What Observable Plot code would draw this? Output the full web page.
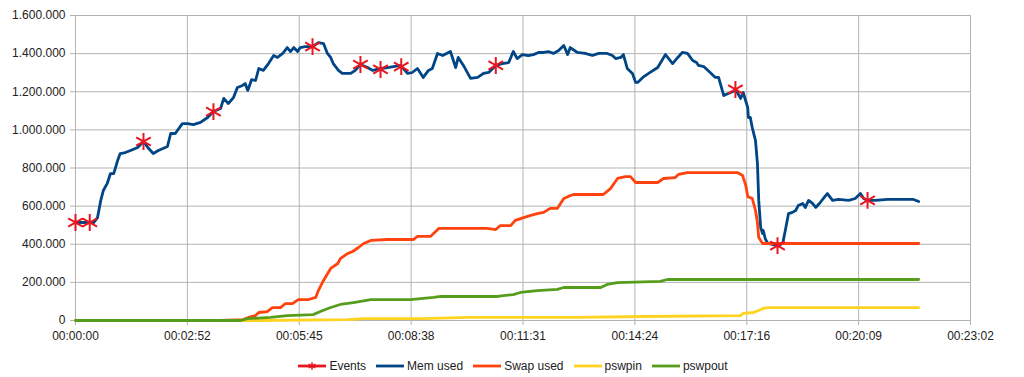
<!DOCTYPE html>
<html>
<head>
<meta charset="utf-8">
<script src="https://cdn.jsdelivr.net/npm/d3@7"></script>
<script src="https://cdn.jsdelivr.net/npm/@observablehq/plot@0.6"></script>
<style>
  html, body { margin: 0; padding: 0; background: #fff; }
  body { font-family: "Liberation Sans", Arial, sans-serif; width: 1024px; height: 377px; overflow: hidden; }
  #legend { display: flex; justify-content: center; align-items: center; height: 32px; font-size: 12px; color: #222; padding-left: 2px; }
  .item { display: flex; align-items: center; margin: 0 5px; }
  .item svg { margin-right: 3px; }
</style>
</head>
<body>
<div id="chart"></div>
<div id="legend"></div>
<script>
// ---- Data (time in seconds, values as plotted) ----
const memTime = [0,28,34,39,43,49,54,59,65,69,77,85,96,105,113,120,128,142,147,154,165,173,182,193,204,213,224,229,236,244,250,258,262,266,272,278,283,290,298,306,312,320,327,332,337,343,347,355,366,375,383,389,394,398,406,412,425,432,440,451,459,471,482,502,513,520,528,537,545,551,559,567,579,587,591,599,610,621,630,638,649,659,669,676,682,690,699,707,715,723,730,738,746,754,760,764,775,787,798,808,821,829,834,842,846,852,860,865,868,876,885,899,911,916,922,930,937,945,953,959,962,970,980,988,993,1001,1008,1019,1022,1027,1031,1038,1039,1042,1045,1050,1053,1055,1058,1061,1062,1065,1069,1076,1084,1092,1096,1101,1107,1112,1116,1123,1127,1132,1138,1143,1150,1157,1161,1169,1178,1194,1204,1212,1217,1223,1235,1254,1285,1294,1302];
const memValue = [514000,514000,540000,630000,682000,719000,771000,771000,839000,876000,881000,892000,908000,939000,902000,876000,892000,913000,981000,981000,1033000,1033000,1028000,1039000,1065000,1096000,1112000,1165000,1138000,1170000,1222000,1233000,1243000,1207000,1264000,1259000,1322000,1312000,1348000,1390000,1380000,1401000,1432000,1411000,1432000,1411000,1432000,1437000,1437000,1458000,1453000,1401000,1380000,1348000,1312000,1296000,1296000,1312000,1343000,1327000,1312000,1322000,1327000,1338000,1296000,1301000,1322000,1275000,1312000,1322000,1401000,1390000,1411000,1327000,1380000,1338000,1270000,1275000,1296000,1301000,1338000,1348000,1353000,1411000,1374000,1395000,1390000,1395000,1406000,1406000,1411000,1401000,1416000,1443000,1395000,1432000,1406000,1401000,1390000,1401000,1401000,1390000,1374000,1380000,1395000,1322000,1296000,1249000,1249000,1275000,1296000,1327000,1395000,1374000,1348000,1380000,1406000,1401000,1364000,1353000,1338000,1332000,1301000,1275000,1275000,1180000,1191000,1207000,1196000,1165000,1196000,1117000,1065000,1065000,1012000,944000,824000,630000,488000,456000,472000,430000,404000,399000,393000,404000,472000,561000,567000,577000,603000,614000,593000,630000,614000,593000,619000,650000,666000,630000,635000,630000,640000,666000,640000,630000,630000,635000,635000,635000,624000];

const swapTime = [0,224,259,267,278,283,296,304,317,324,335,344,360,371,375,383,394,405,409,420,428,437,445,456,482,517,522,528,548,561,584,636,649,656,672,679,692,703,713,723,733,744,754,761,769,815,826,837,849,857,865,899,908,926,931,945,1022,1030,1035,1038,1045,1050,1053,1055,1061,1302];
const swapValue = [0,0,5000,16000,26000,42000,47000,68000,68000,89000,89000,110000,110000,121000,157000,210000,273000,299000,325000,351000,362000,383000,404000,420000,425000,425000,425000,441000,441000,483000,483000,483000,477000,498000,498000,525000,540000,551000,561000,567000,588000,588000,640000,651000,661000,661000,692000,745000,755000,755000,724000,724000,745000,750000,766000,776000,776000,761000,708000,650000,640000,577000,514000,435000,404000,404000];

const pswpinTime = [0,286,420,445,533,610,687,775,877,1027,1031,1047,1062,1070,1302];
const pswpinValue = [0,0,5000,10000,10000,16000,16000,16000,21000,26000,37000,42000,63000,68000,68000];

const pswpoutTime = [0,255,266,301,327,367,378,394,409,429,456,506,517,553,564,652,661,676,687,713,744,754,811,821,837,903,914,1302];
const pswpoutValue = [0,0,10000,16000,26000,31000,47000,68000,84000,94000,110000,110000,110000,121000,126000,126000,131000,136000,147000,157000,163000,173000,173000,189000,199000,205000,215000,215000];

const eventTime = [0,22,105,213,366,440,471,503,649,1019,1084,1223];
const eventValue = [514000,514000,939000,1096000,1437000,1343000,1317000,1332000,1338000,1212000,393000,630000];

const xTickSeconds = [0,172.75,345.5,518.25,691,863.75,1036.5,1209.25,1382];
const xTickLabels = ["00:00:00","00:02:52","00:05:45","00:08:38","00:11:31","00:14:24","00:17:16","00:20:09","00:23:02"];
const yTickValues = [0,200000,400000,600000,800000,1000000,1200000,1400000,1600000];
const yTickLabels = ["0","200.000","400.000","600.000","800.000","1.000.000","1.200.000","1.400.000","1.600.000"];

const seriesNames = ["Events","Mem used","Swap used","pswpin","pswpout"];
const seriesColors = ["#e8171f","#004586","#ff420e","#ffd320","#579d1c"];

// ---- Build tables ----
const zipSeries = (ts, vs) => ts.map((t, i) => ({t, v: vs[i]}));
const mem = zipSeries(memTime, memValue);
const swap = zipSeries(swapTime, swapValue);
const pin = zipSeries(pswpinTime, pswpinValue);
const pout = zipSeries(pswpoutTime, pswpoutValue);
const events = zipSeries(eventTime, eventValue);

const gridColor = "#b3b3b3";
const lw = 2.8;

const chart = Plot.plot({
  width: 1024,
  height: 350,
  marginLeft: 75,
  marginRight: 54,
  marginTop: 15,
  marginBottom: 30,
  style: {fontFamily: "'Liberation Sans', Arial, sans-serif", fontSize: "12px", color: "#222", background: "#fff"},
  x: {type: "linear", domain: [0, 1382]},
  y: {type: "linear", domain: [0, 1600000]},
  marks: [
    Plot.gridX(xTickSeconds, {stroke: gridColor, strokeOpacity: 1}),
    Plot.gridY(yTickValues, {stroke: gridColor, strokeOpacity: 1}),
    Plot.axisX({ticks: xTickSeconds, tickFormat: d => xTickLabels[xTickSeconds.indexOf(d)], tickSize: 5, tickPadding: 6, stroke: gridColor, fill: "#222", label: null}),
    Plot.axisY({ticks: yTickValues, tickFormat: d => yTickLabels[yTickValues.indexOf(d)], tickSize: 5, tickPadding: 5, stroke: gridColor, fill: "#222", label: null}),
    Plot.line(mem, {x: "t", y: "v", stroke: seriesColors[1], strokeWidth: lw, strokeLinejoin: "round"}),
    Plot.line(swap, {x: "t", y: "v", stroke: seriesColors[2], strokeWidth: lw, strokeLinejoin: "round"}),
    Plot.line(pin, {x: "t", y: "v", stroke: seriesColors[3], strokeWidth: lw, strokeLinejoin: "round"}),
    Plot.line(pout, {x: "t", y: "v", stroke: seriesColors[4], strokeWidth: lw, strokeLinejoin: "round"}),
    Plot.dot(events, {x: "t", y: "v", symbol: "asterisk", r: 8, stroke: seriesColors[0], strokeWidth: 2})
  ]
});
document.getElementById("chart").appendChild(chart);

// ---- Legend ----
const legend = document.getElementById("legend");
seriesNames.forEach((name, i) => {
  const item = document.createElement("div");
  item.className = "item";
  const star = i === 0
    ? `<path d="${d3.symbol(d3.symbolAsterisk, 40)()}" transform="translate(14,6)" stroke="${seriesColors[i]}" stroke-width="1.5" fill="none"/>`
    : "";
  item.innerHTML = `<svg width="28" height="12"><line x1="0" x2="28" y1="6" y2="6" stroke="${seriesColors[i]}" stroke-width="2.8"/>${star}</svg><span>${name}</span>`;
  legend.appendChild(item);
});
</script>
</body>
</html>
